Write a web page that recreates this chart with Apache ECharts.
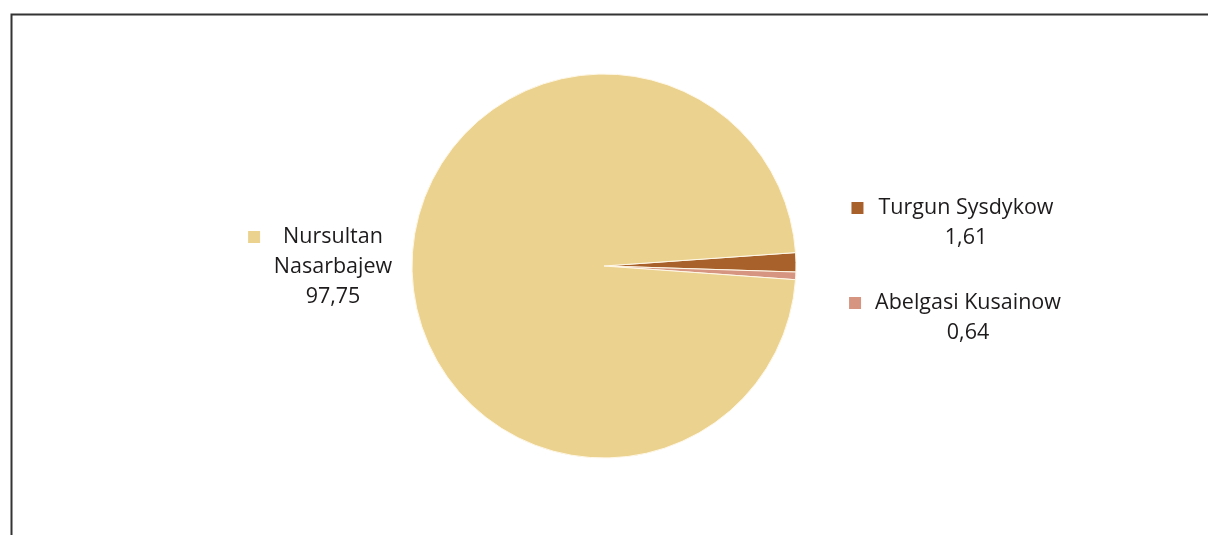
<!DOCTYPE html>
<html>
<head>
<meta charset="utf-8">
<script src="https://cdn.jsdelivr.net/npm/echarts@6/dist/echarts.min.js"></script>
<style>
  html, body { margin: 0; padding: 0; background: #fff; }
  #chart { width: 1208px; height: 535px; }
</style>
</head>
<body>
<div id="chart"></div>
<script>
// data
var names = ['Turgun Sysdykow', 'Abelgasi Kusainow', 'Nursultan Nasarbajew'];
var labelNames = ['Turgun Sysdykow', 'Abelgasi Kusainow', 'Nursultan\nNasarbajew'];
var values = [1.61, 0.64, 97.75];
var colors = ['#a8612b', '#d59580', '#ebd28f'];

// where each label block sits (centre of the text) and gap square -> text
var labelPos = [[966, 223], [968, 318], [333, 267]];
var gaps = [15, 14, 23];

var chart = echarts.init(document.getElementById('chart'));

var pieData = [];
for (var i = 0; i < values.length; i++) {
    pieData.push({
        value: values[i],
        name: names[i],
        itemStyle: { color: colors[i] }
    });
}

var rich = {
    t: { fontFamily: 'Open Sans', fontSize: 21.5, color: '#1e1b1c', lineHeight: 30 }
};
for (var k = 0; k < colors.length; k++) {
    rich['sq' + k] = { width: 12, height: 12, backgroundColor: colors[k] };
    rich['g' + k] = { width: gaps[k] };
    rich['r' + k] = { width: gaps[k] + 12 };
}

option = {
    backgroundColor: '#fff',
    animation: false,
    graphic: [{
        type: 'rect',
        left: 9,
        top: 12,
        shape: { width: 1300, height: 600 },
        style: { fill: 'none', stroke: '#333', lineWidth: 2 },
        silent: true
    }],
    series: [{
        name: 'Wahl',
        type: 'pie',
        center: [604, 266],
        radius: [0, 192],
        startAngle: 4,
        clockwise: true,
        avoidLabelOverlap: false,
        itemStyle: { borderColor: '#fff8e8', borderWidth: 1 },
        label: {
            show: true,
            color: '#1e1b1c',
            fontFamily: 'Open Sans',
            fontSize: 21.5,
            lineHeight: 30,
            align: 'center',
            formatter: function (p) {
                var n = p.dataIndex;
                var lines = labelNames[n].split('\n');
                var out = '{sq' + n + '|}{g' + n + '|}{t|' + lines[0] + '}{r' + n + '|}';
                for (var j = 1; j < lines.length; j++) {
                    out += '\n{t|' + lines[j] + '}';
                }
                out += '\n{t|' + String(values[n]).replace('.', ',') + '}';
                return out;
            },
            rich: rich
        },
        labelLine: { show: false },
        labelLayout: function (p) {
            var pos = labelPos[p.dataIndex];
            return { x: pos[0], y: pos[1], align: 'center', verticalAlign: 'middle' };
        },
        emphasis: { disabled: true },
        data: pieData
    }]
};
chart.setOption(option);
</script>
</body>
</html>
